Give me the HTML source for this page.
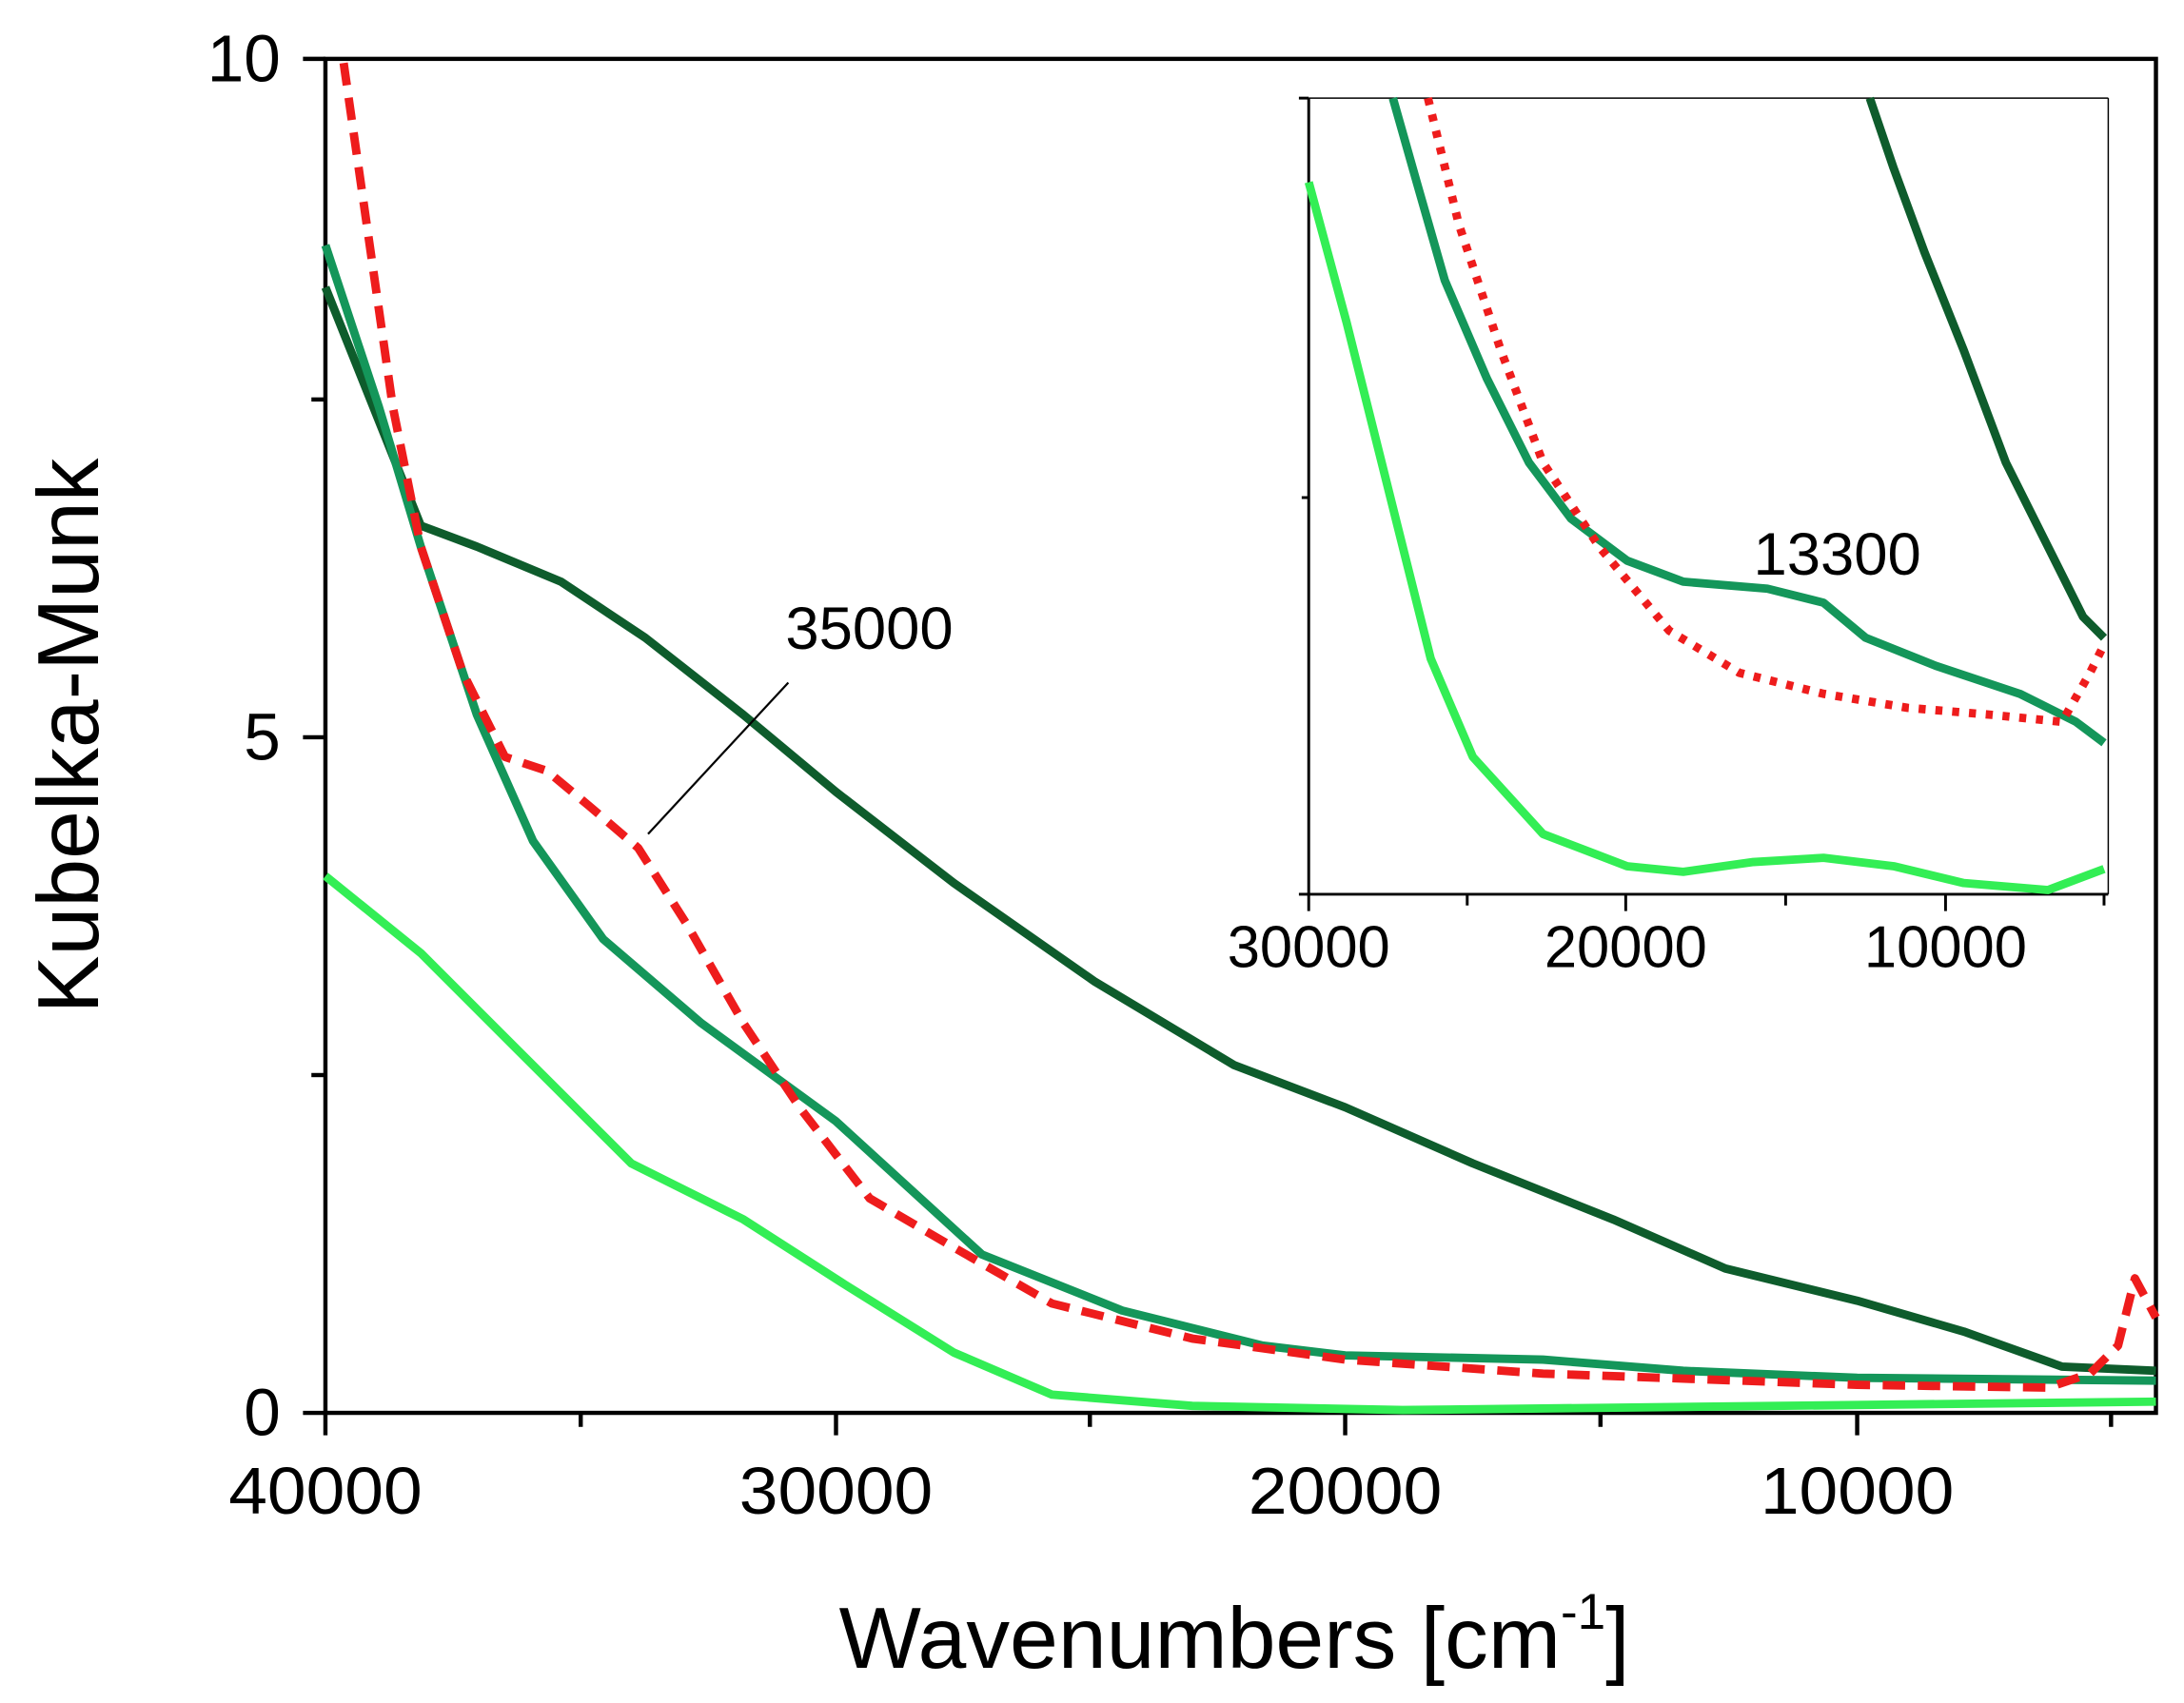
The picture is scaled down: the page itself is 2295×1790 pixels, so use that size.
<!DOCTYPE html>
<html><head><style>html,body{margin:0;padding:0;background:#fff}svg{display:block}</style></head>
<body>
<svg width="2295" height="1790" viewBox="0 0 1557 1215" preserveAspectRatio="none" xmlns="http://www.w3.org/2000/svg" font-family="Liberation Sans, Arial, sans-serif">
<rect width="1557" height="1215" fill="#fff"/>
<rect x="232" y="42" width="1305" height="966" fill="none" stroke="#000" stroke-width="3"/>
<g stroke="#000" stroke-width="3">
<line x1="232" y1="1008" x2="232" y2="1024"/><line x1="414" y1="1008" x2="414" y2="1018"/>
<line x1="596" y1="1008" x2="596" y2="1024"/><line x1="777" y1="1008" x2="777" y2="1018"/>
<line x1="959" y1="1008" x2="959" y2="1024"/><line x1="1141" y1="1008" x2="1141" y2="1018"/>
<line x1="1324" y1="1008" x2="1324" y2="1024"/><line x1="1505" y1="1008" x2="1505" y2="1018"/>
<line x1="216" y1="1008" x2="232" y2="1008"/><line x1="222" y1="767" x2="232" y2="767"/>
<line x1="216" y1="526" x2="232" y2="526"/><line x1="222" y1="285" x2="232" y2="285"/>
<line x1="216" y1="42" x2="232" y2="42"/>
</g>
<g font-size="47" fill="#000" text-anchor="middle">
<text x="232" y="1080" textLength="138" lengthAdjust="spacingAndGlyphs">40000</text><text x="596" y="1080" textLength="138" lengthAdjust="spacingAndGlyphs">30000</text>
<text x="959" y="1080" textLength="138" lengthAdjust="spacingAndGlyphs">20000</text><text x="1324" y="1080" textLength="138" lengthAdjust="spacingAndGlyphs">10000</text>
</g>
<g font-size="47" fill="#000" text-anchor="end">
<text x="200" y="1024">0</text><text x="200" y="542">5</text><text x="200" y="58">10</text>
</g>
<text x="880" y="1190" font-size="62" text-anchor="middle">Wavenumbers [cm<tspan dy="-28" font-size="36">-1</tspan><tspan dy="28">]</tspan></text>
<text transform="translate(70,525) rotate(-90)" font-size="62" text-anchor="middle">Kubelka-Munk</text>
<g fill="none" stroke-linejoin="round" stroke-width="6">
<polyline stroke="#0e5c2c" points="232,205 300,375 340,390 400,415 460,455 530,510 596,565 680,630 780,700 880,760 959,790 1050,830 1150,870 1230,905 1324,928 1400,950 1470,975 1537,978"/>
<polyline stroke="#14965a" points="232,175 270,290 300,390 340,510 380,600 430,670 500,730 596,800 700,895 800,935 900,960 959,967 1100,970 1200,978 1324,983 1537,985"/>
<polyline stroke="#ee1c1c" stroke-dasharray="16,9" points="245,45 260,150 280,290 300,390 330,480 360,540 390,550 420,575 455,605 490,660 530,730 570,790 620,855 680,890 750,930 850,955 959,970 1100,980 1324,988 1460,990 1490,980 1510,960 1522,912 1537,940"/>
<polyline stroke="#33ee55" points="232,625 300,680 370,750 450,830 530,870 600,915 680,965 750,995 850,1003 1000,1006 1537,1000"/>
</g>
<line x1="462" y1="595" x2="562" y2="487" stroke="#000" stroke-width="1.5"/>
<text x="560" y="463" font-size="43">35000</text>
<rect x="933" y="70" width="570" height="568" fill="#fff"/>
<g stroke="#000" stroke-width="2">
<line x1="933" y1="70" x2="933" y2="638"/><line x1="933" y1="638" x2="1503" y2="638"/>
<line x1="933" y1="70" x2="1503" y2="70" stroke-width="1"/><line x1="1503" y1="70" x2="1503" y2="638" stroke-width="1"/>
<line x1="933" y1="638" x2="933" y2="650"/><line x1="1046" y1="638" x2="1046" y2="646"/>
<line x1="1159" y1="638" x2="1159" y2="650"/><line x1="1273" y1="638" x2="1273" y2="646"/>
<line x1="1387" y1="638" x2="1387" y2="650"/><line x1="1500" y1="638" x2="1500" y2="646"/>
<line x1="926" y1="70" x2="933" y2="70"/><line x1="928" y1="355" x2="933" y2="355"/><line x1="926" y1="638" x2="933" y2="638"/>
</g>
<g font-size="42" fill="#000" text-anchor="middle">
<text x="933" y="690" textLength="116" lengthAdjust="spacingAndGlyphs">30000</text><text x="1159" y="690" textLength="116" lengthAdjust="spacingAndGlyphs">20000</text><text x="1387" y="690" textLength="116" lengthAdjust="spacingAndGlyphs">10000</text>
</g>
<g fill="none" stroke-linejoin="round" stroke-width="6">
<polyline stroke="#0e5c2c" points="1333,70 1350,120 1372,180 1400,250 1430,330 1460,390 1485,440 1500,455"/>
<polyline stroke="#14965a" points="993,70 1010,130 1030,200 1060,270 1090,330 1120,370 1160,400 1200,415 1260,420 1300,430 1330,455 1380,475 1440,495 1480,515 1500,530"/>
<polyline stroke="#ee1c1c" stroke-dasharray="5,7" points="1018,70 1040,160 1070,250 1100,330 1140,390 1190,450 1240,480 1300,495 1360,505 1420,510 1470,515 1490,480 1500,460"/>
<polyline stroke="#33ee55" points="933,130 960,230 990,350 1020,470 1050,540 1100,595 1160,618 1200,622 1250,615 1300,612 1350,618 1400,630 1460,635 1500,620"/>
</g>
<text x="1250" y="410" font-size="43">13300</text>
</svg>
</body></html>
